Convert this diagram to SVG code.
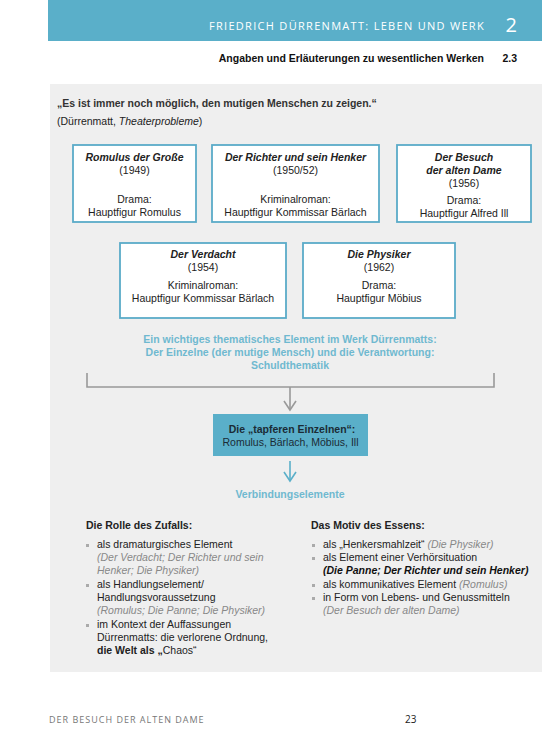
<svg xmlns="http://www.w3.org/2000/svg" width="542" height="750" viewBox="0 0 542 750">
<defs>
<style>
text{font-family:"Liberation Sans",Arial,sans-serif;fill:#222;}
.hd{font-family:"Open Sans","Liberation Sans",sans-serif;}
.box{fill:#fff;stroke:#5aabc8;stroke-width:1.8;}
.bt{font-size:10.5px;text-anchor:middle;}
.it{font-style:italic;}
.blue{fill:#6fb9d0;font-size:10.5px;text-anchor:middle;font-weight:bold;}
.gi{font-style:italic;fill:#888;}
.bul{fill:#aaa;}
</style>
</defs>
<rect x="0" y="0" width="542" height="750" fill="#fff"/>
<g id="header">
<rect x="48" y="0" width="494" height="41" fill="#5aafc9"/>
<text class="hd" x="485" y="30" text-anchor="end" font-size="11" letter-spacing="1.3" style="fill:#fff">FRIEDRICH DÜRRENMATT: LEBEN UND WERK</text>
<text class="hd" x="517" y="32" text-anchor="end" font-size="20" style="fill:#fff">2</text>
<text x="484" y="62" text-anchor="end" font-size="10.5" font-weight="bold" style="fill:#111">Angaben und Erläuterungen zu wesentlichen Werken</text>
<text x="517" y="62" text-anchor="end" font-size="10.5" font-weight="bold" style="fill:#111">2.3</text>
</g>
<rect id="panel" x="50" y="84" width="492" height="588" fill="#efefef"/>
<g id="quote">
<text x="57" y="107" font-size="10.5" font-weight="bold" style="fill:#333">„Es ist immer noch möglich, den mutigen Menschen zu zeigen.“</text>
<text x="57" y="125" font-size="10.5" style="fill:#222">(Dürrenmatt, <tspan font-style="italic">Theaterprobleme</tspan>)</text>
</g>
<g id="n1">
<rect class="box" x="73" y="145" width="123" height="77"/>
<text class="bt it" x="134.5" y="161" font-weight="bold">Romulus der Große</text>
<text class="bt" x="134.5" y="174">(1949)</text>
<text class="bt" x="134.5" y="203">Drama:</text>
<text class="bt" x="134.5" y="216">Hauptfigur Romulus</text>
</g>
<g id="n2">
<rect class="box" x="212" y="145" width="167" height="77"/>
<text class="bt it" x="295.5" y="161" font-weight="bold">Der Richter und sein Henker</text>
<text class="bt" x="295.5" y="174">(1950/52)</text>
<text class="bt" x="295.5" y="203">Kriminalroman:</text>
<text class="bt" x="295.5" y="216">Hauptfigur Kommissar Bärlach</text>
</g>
<g id="n3">
<rect class="box" x="397" y="145" width="134" height="77"/>
<text class="bt it" x="464" y="161" font-weight="bold">Der Besuch</text>
<text class="bt it" x="464" y="174" font-weight="bold">der alten Dame</text>
<text class="bt" x="464" y="187">(1956)</text>
<text class="bt" x="464" y="204">Drama:</text>
<text class="bt" x="464" y="217">Hauptfigur Alfred Ill</text>
</g>
<g id="n4">
<rect class="box" x="120" y="243" width="166" height="75"/>
<text class="bt it" x="203" y="258" font-weight="bold">Der Verdacht</text>
<text class="bt" x="203" y="271">(1954)</text>
<text class="bt" x="203" y="289">Kriminalroman:</text>
<text class="bt" x="203" y="302">Hauptfigur Kommissar Bärlach</text>
</g>
<g id="n5">
<rect class="box" x="303" y="243" width="152" height="75"/>
<text class="bt it" x="379" y="258" font-weight="bold">Die Physiker</text>
<text class="bt" x="379" y="271">(1962)</text>
<text class="bt" x="379" y="289">Drama:</text>
<text class="bt" x="379" y="302">Hauptfigur Möbius</text>
</g>
<g id="theme">
<text class="blue" x="290" y="343" font-weight="normal">Ein wichtiges thematisches Element im Werk Dürrenmatts:</text>
<text class="blue" x="290" y="356">Der Einzelne (der mutige Mensch) und die Verantwortung:</text>
<text class="blue" x="290" y="369">Schuldthematik</text>
</g>
<g id="connectors" fill="none" stroke-width="1.6">
<path d="M87,373 V387 H494 V373" stroke="#999"/>
<path d="M290,387 V409" stroke="#999"/>
<path d="M284,401 L290,410 L296,401" stroke="#999"/>
<path d="M290,461 V480" stroke="#5aafc9"/>
<path d="M284,472 L290,481 L296,472" stroke="#5aafc9"/>
</g>
<g id="n6">
<rect x="213" y="414" width="155" height="42" fill="#5aafc9"/>
<text x="292" y="433" text-anchor="middle" font-size="10.5" font-weight="bold" style="fill:#1b2b35">Die „tapferen Einzelnen“:</text>
<text x="290.5" y="446" text-anchor="middle" font-size="10.5" style="fill:#1b2b35">Romulus, Bärlach, Möbius, Ill</text>
</g>
<g id="n7">
<text class="blue" x="290" y="498">Verbindungselemente</text>
</g>
<g id="left-list">
<text x="86" y="529" font-size="10.5" font-weight="bold" style="fill:#222">Die Rolle des Zufalls:</text>
<rect class="bul" x="86" y="544" width="3" height="3"/>
<text x="97" y="548" font-size="10.5">als dramaturgisches Element</text>
<text x="97" y="561" font-size="10.5" class="gi">(Der Verdacht; Der Richter und sein</text>
<text x="97" y="574" font-size="10.5" class="gi">Henker; Die Physiker)</text>
<rect class="bul" x="86" y="584" width="3" height="3"/>
<text x="97" y="588" font-size="10.5">als Handlungselement/</text>
<text x="97" y="601" font-size="10.5">Handlungsvoraussetzung</text>
<text x="97" y="614" font-size="10.5" class="gi">(Romulus; Die Panne; Die Physiker)</text>
<rect class="bul" x="86" y="624" width="3" height="3"/>
<text x="97" y="628" font-size="10.5">im Kontext der Auffassungen</text>
<text x="97" y="641" font-size="10.5">Dürrenmatts: die verlorene Ordnung,</text>
<text x="97" y="654" font-size="10.5"><tspan font-weight="bold">die Welt als „</tspan>Chaos“</text>
</g>
<g id="right-list">
<text x="311" y="529" font-size="10.5" font-weight="bold" style="fill:#222">Das Motiv des Essens:</text>
<rect class="bul" x="312" y="544" width="3" height="3"/>
<text x="323" y="548" font-size="10.5">als „Henkersmahlzeit“ <tspan class="gi">(Die Physiker)</tspan></text>
<rect class="bul" x="312" y="557" width="3" height="3"/>
<text x="323" y="561" font-size="10.5">als Element einer Verhörsituation</text>
<text x="323" y="574" font-size="10.5" font-weight="bold" font-style="italic" style="fill:#111">(Die Panne; Der Richter und sein Henker)</text>
<rect class="bul" x="312" y="584" width="3" height="3"/>
<text x="323" y="588" font-size="10.5">als kommunikatives Element <tspan class="gi">(Romulus)</tspan></text>
<rect class="bul" x="312" y="597" width="3" height="3"/>
<text x="323" y="601" font-size="10.5">in Form von Lebens- und Genussmitteln</text>
<text x="323" y="614" font-size="10.5" class="gi">(Der Besuch der alten Dame)</text>
</g>
<g id="footer">
<text class="hd" x="49" y="723" font-size="9" letter-spacing="1" style="fill:#777">DER BESUCH DER ALTEN DAME</text>
<text class="hd" x="405" y="723" font-size="10" style="fill:#222">23</text>
</g>
</svg>
